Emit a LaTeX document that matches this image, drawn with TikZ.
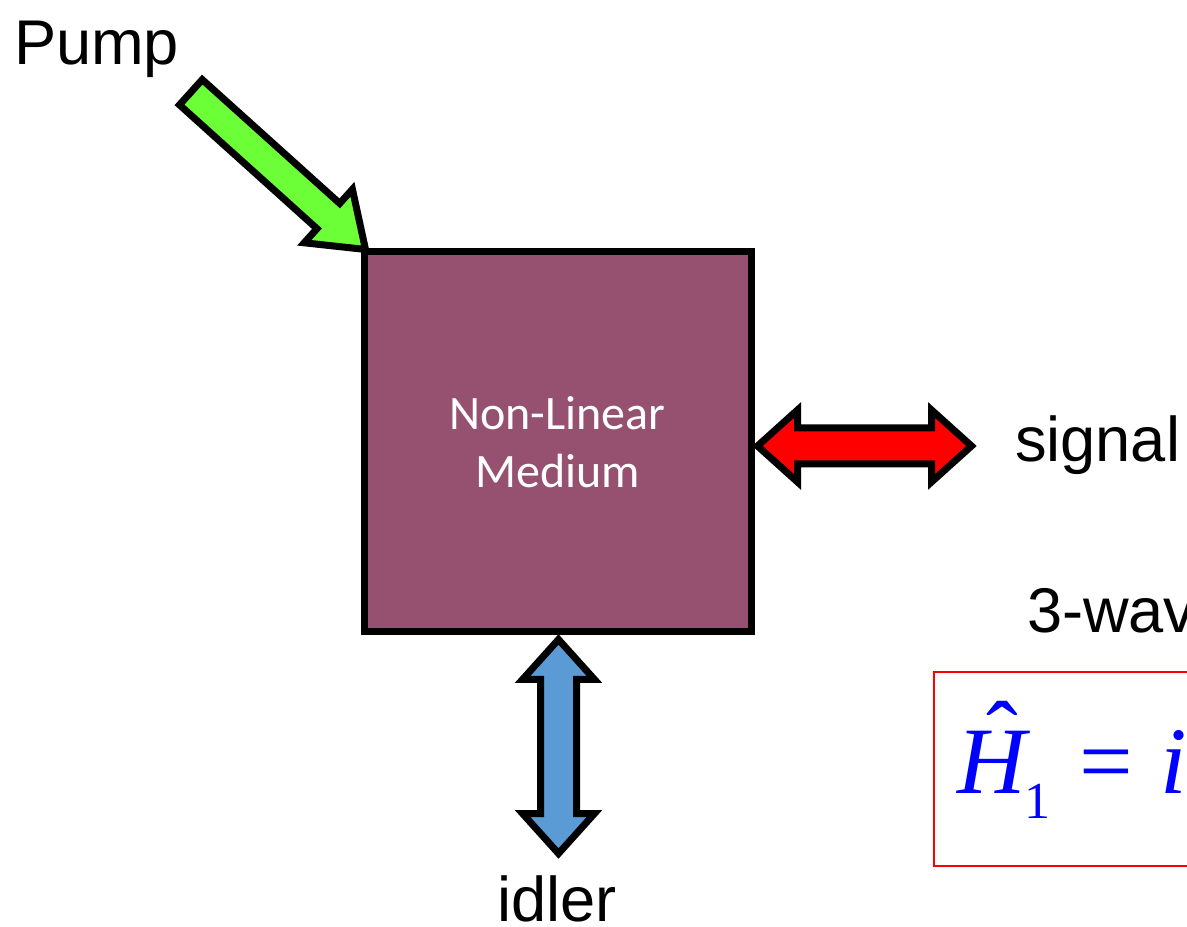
\documentclass[tikz,border=0pt]{standalone}
\usepackage{fontspec}
\setmainfont{Liberation Sans}
\newfontfamily\calibri{Carlito}
\newfontfamily\eqfont{Liberation Serif}
\usepackage{tikz}
\usetikzlibrary{positioning}
\definecolor{plum}{HTML}{965171}
\definecolor{pumpgreen}{HTML}{6CFF38}
\definecolor{sigred}{HTML}{FF0000}
\definecolor{idlblue}{HTML}{5B9BD5}
\definecolor{eqblue}{HTML}{0000FF}
\tikzset{
  medium/.style    = {draw=black, fill=plum, line width=3.5pt, minimum width=193.5pt, minimum height=190pt,
                      inner sep=0pt, align=center, text=white, font=\calibri\fontsize{24}{29}\selectfont},
  waveline/.style  = {draw=black, line width=3.5pt, miter limit=10},
  pics/onearrow/.style = {code={%
    \path[pic actions] (0,0) -- (-50,36) -- (-50,17) -- (-235,17) -- (-235,-17) -- (-50,-17) -- (-50,-36) -- cycle;}},
  pics/twoarrow/.style = {code={%
    \path[pic actions] (0,0) -- (40,36) -- (40,18) -- (174,18) -- (174,36) -- (214,0)
      -- (174,-36) -- (174,-18) -- (40,-18) -- (40,-36) -- cycle;}},
  lab/.style       = {font=\fontsize{31.6}{38}\selectfont, inner sep=0pt, outer sep=0pt, anchor=base west},
  eq/.style        = {font=\eqfont\fontsize{47.6}{57}\selectfont, text=eqblue, inner sep=0pt, outer sep=0pt, anchor=base west},
  eqsub/.style     = {font=\eqfont\fontsize{26}{31}\selectfont, text=eqblue, inner sep=0pt, outer sep=0pt, anchor=base west},
  eqframe/.style   = {draw=sigred, line width=1pt},
}
\begin{document}
\begin{tikzpicture}[x=0.5pt,y=0.5pt]
\useasboundingbox (0,0) rectangle (1187,926);
\clip (0,0) rectangle (1187,926);

% ---- the medium ---------------------------------------------------------
\node[medium] (nlm) at (557.5,484) {Non-Linear\\Medium};

% ---- the three waves ----------------------------------------------------
\pic[waveline, fill=pumpgreen, rotate=-42] (pump) at ([shift={(2.5pt,-0.5pt)}]nlm.north west) {onearrow};
\pic[waveline, fill=sigred] (sig) at ([shift={(1.5pt,-2pt)}]nlm.east) {twoarrow};
\pic[waveline, fill=idlblue, rotate=-90] (idl) at ([shift={(0.5pt,-2pt)}]nlm.south) {twoarrow};

\node[lab] (pumplab) at (14,861) {Pump};
\node[lab] (siglab) at (1015,464) {signal};
\node[lab, anchor=base] (idllab) at (557,5) {idler};
\node[lab] (mixlab) at (1027,293) {3-wav};

% ---- hamiltonian, runs off the page -------------------------------------
\draw[eqframe] (934,60) rectangle (1300,254);
\node[eq] (hop) at (957,133) {\itshape H\llap{\upshape\raisebox{13pt}{ˆ}\hspace{3.8pt}}};
\node[eqsub] (hsub) at (1024,108) {1};
\node[eq] (heq) at (1079,133) {=};
\node[eq] (hi) at (1160,133) {\itshape iħ};

\end{tikzpicture}
\end{document}
